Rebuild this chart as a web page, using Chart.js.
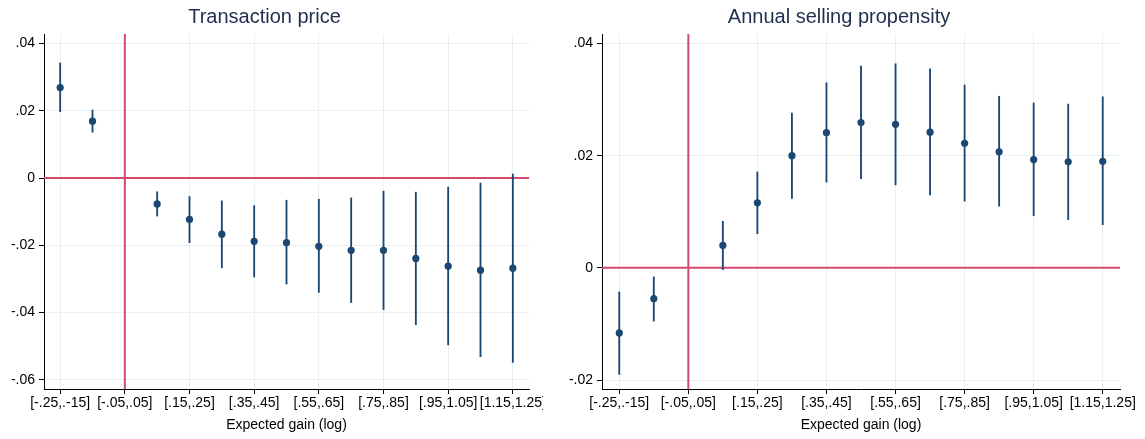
<!DOCTYPE html>
<html>
<head>
<meta charset="utf-8">
<script src="https://cdn.jsdelivr.net/npm/chart.js@4/dist/chart.umd.min.js"></script>
<style>
    body { margin: 0; background: #fff; }
    .panel { position: absolute; top: 0; height: 439px; }
</style>
</head>
<body>
<div class="panel" style="left:0; width:543px;"><canvas id="priceChart"></canvas></div>
<div class="panel" style="left:558px; width:587px;"><canvas id="propChart"></canvas></div>
<script>
// expected gain bins (log)
var categories = ['[-.25,.-15]', '[-.15,-.05]', '[-.05,.05]', '[.05,.15]', '[.15,.25]', '[.25,.35]', '[.35,.45]',
    '[.45,.55]', '[.55,.65]', '[.65,.75]', '[.75,.85]', '[.85,.95]', '[.95,1.05]', '[1.05,1.15]', '[1.15,1.25]'];
var refIndex = 2; // omitted bin

// Transaction price
var priceCoef = [0.0269, 0.0169, null, -0.0077, -0.0123, -0.0167, -0.0188, -0.0192, -0.0203, -0.0215, -0.0215, -0.0239, -0.0262, -0.0274, -0.0268];
var priceLo = [0.0197, 0.0136, null, -0.0113, -0.0192, -0.0267, -0.0294, -0.0315, -0.0340, -0.0370, -0.0391, -0.0436, -0.0496, -0.0531, -0.0548];
var priceHi = [0.0342, 0.0202, null, -0.0041, -0.0055, -0.0068, -0.0082, -0.0066, -0.0063, -0.0059, -0.0039, -0.0042, -0.0027, -0.0015, 0.0012];
var priceTicks = [-0.06, -0.04, -0.02, 0, 0.02, 0.04];

// Annual selling propensity
var propCoef = [-0.0116, -0.0055, null, 0.0040, 0.0116, 0.0200, 0.0241, 0.0259, 0.0256, 0.0242, 0.0222, 0.0207, 0.0193, 0.0189, 0.0190];
var propLo = [-0.0190, -0.0095, null, -0.0003, 0.0061, 0.0124, 0.0153, 0.0159, 0.0148, 0.0130, 0.0119, 0.0110, 0.0093, 0.0086, 0.0077];
var propHi = [-0.0043, -0.0016, null, 0.0083, 0.0171, 0.0276, 0.0330, 0.0360, 0.0364, 0.0355, 0.0326, 0.0306, 0.0294, 0.0292, 0.0305];
var propTicks = [-0.02, 0, 0.02, 0.04];

var navy = '#1b4872';
var refRed = '#d24b6d';
var gridColor = '#e8f0f2';
var fontFamily = "'Liberation Sans', Arial, Helvetica, sans-serif";

function formatTick(v) {
    v = Math.round(v * 100) / 100;
    if (v === 0) return '0';
    return v.toFixed(2).replace('0.', '.');
}

// red reference lines at 0 and at the omitted bin
var refLines = {
    id: 'refLines',
    beforeDatasetsDraw: function (chart) {
        var ctx = chart.ctx;
        var area = chart.chartArea;
        var y0 = chart.scales.y.getPixelForValue(0);
        var xr = chart.scales.x.getPixelForValue(refIndex);
        ctx.save();
        ctx.strokeStyle = refRed;
        ctx.lineWidth = 2;
        ctx.beginPath();
        ctx.moveTo(area.left, y0);
        ctx.lineTo(area.right, y0);
        ctx.moveTo(xr, area.top);
        ctx.lineTo(xr, area.bottom);
        ctx.stroke();
        ctx.restore();
    }
};

function makeChart(id, title, coef, lo, hi, yTicks, yMin, yMax, rightPad) {
    var bars = [];
    for (var i = 0; i < coef.length; i++) {
        bars.push(lo[i] === null ? null : [lo[i], hi[i]]);
    }

    var ctx = document.getElementById(id).getContext('2d');
    return new Chart(ctx, {
        type: 'bar',
        data: {
            labels: categories,
            datasets: [
                {
                    type: 'line',
                    data: coef,
                    showLine: false,
                    pointRadius: 3.6,
                    pointHoverRadius: 3.6,
                    pointBackgroundColor: navy,
                    pointBorderWidth: 0,
                    borderColor: navy,
                    order: 0
                },
                {
                    type: 'bar',
                    data: bars,
                    backgroundColor: navy,
                    barThickness: 1.2,
                    borderWidth: 0,
                    order: 1
                }
            ]
        },
        options: {
            responsive: true,
            maintainAspectRatio: false,
            animation: false,
            layout: { padding: { left: 0, right: rightPad, top: 0, bottom: 0 } },
            plugins: {
                legend: { display: false },
                tooltip: { enabled: false },
                title: {
                    display: true,
                    text: title,
                    color: '#1f2d50',
                    font: { family: fontFamily, size: 20, weight: 'normal' },
                    padding: { top: 5.5, bottom: 4.5 }
                }
            },
            scales: {
                x: {
                    offset: true,
                    grid: {
                        color: gridColor,
                        tickColor: '#000',
                        tickLength: 5,
                        offset: false
                    },
                    border: { display: true, color: '#000', width: 1 },
                    ticks: {
                        autoSkip: false,
                        maxRotation: 0,
                        padding: 1,
                        color: '#000',
                        font: { family: fontFamily, size: 14 },
                        callback: function (value, index) {
                            return index % 2 === 0 ? categories[index] : null;
                        }
                    },
                    title: {
                        display: true,
                        text: 'Expected gain (log)',
                        color: '#000',
                        font: { family: fontFamily, size: 14 },
                        padding: { top: 0, bottom: 5 }
                    },
                    afterFit: function (scale) {
                        scale.height = 50;
                        scale.paddingLeft = 0;
                        scale.paddingRight = 0;
                    }
                },
                y: {
                    min: yMin,
                    max: yMax,
                    grid: {
                        color: gridColor,
                        tickColor: '#000',
                        tickLength: 5
                    },
                    border: { display: true, color: '#000', width: 1 },
                    ticks: {
                        padding: 4,
                        color: '#000',
                        font: { family: fontFamily, size: 14 },
                        callback: function (value) { return formatTick(value); }
                    },
                    afterBuildTicks: function (scale) {
                        scale.ticks = yTicks.map(function (v) { return { value: v }; });
                    },
                    afterFit: function (scale) {
                        scale.width = 44;
                        scale.paddingTop = 0;
                        scale.paddingBottom = 0;
                    }
                }
            }
        },
        plugins: [refLines]
    });
}

makeChart('priceChart', 'Transaction price', priceCoef, priceLo, priceHi, priceTicks, -0.0627, 0.0428, 14);
makeChart('propChart', 'Annual selling propensity', propCoef, propLo, propHi, propTicks, -0.0216, 0.0417, 25);
</script>
</body>
</html>
